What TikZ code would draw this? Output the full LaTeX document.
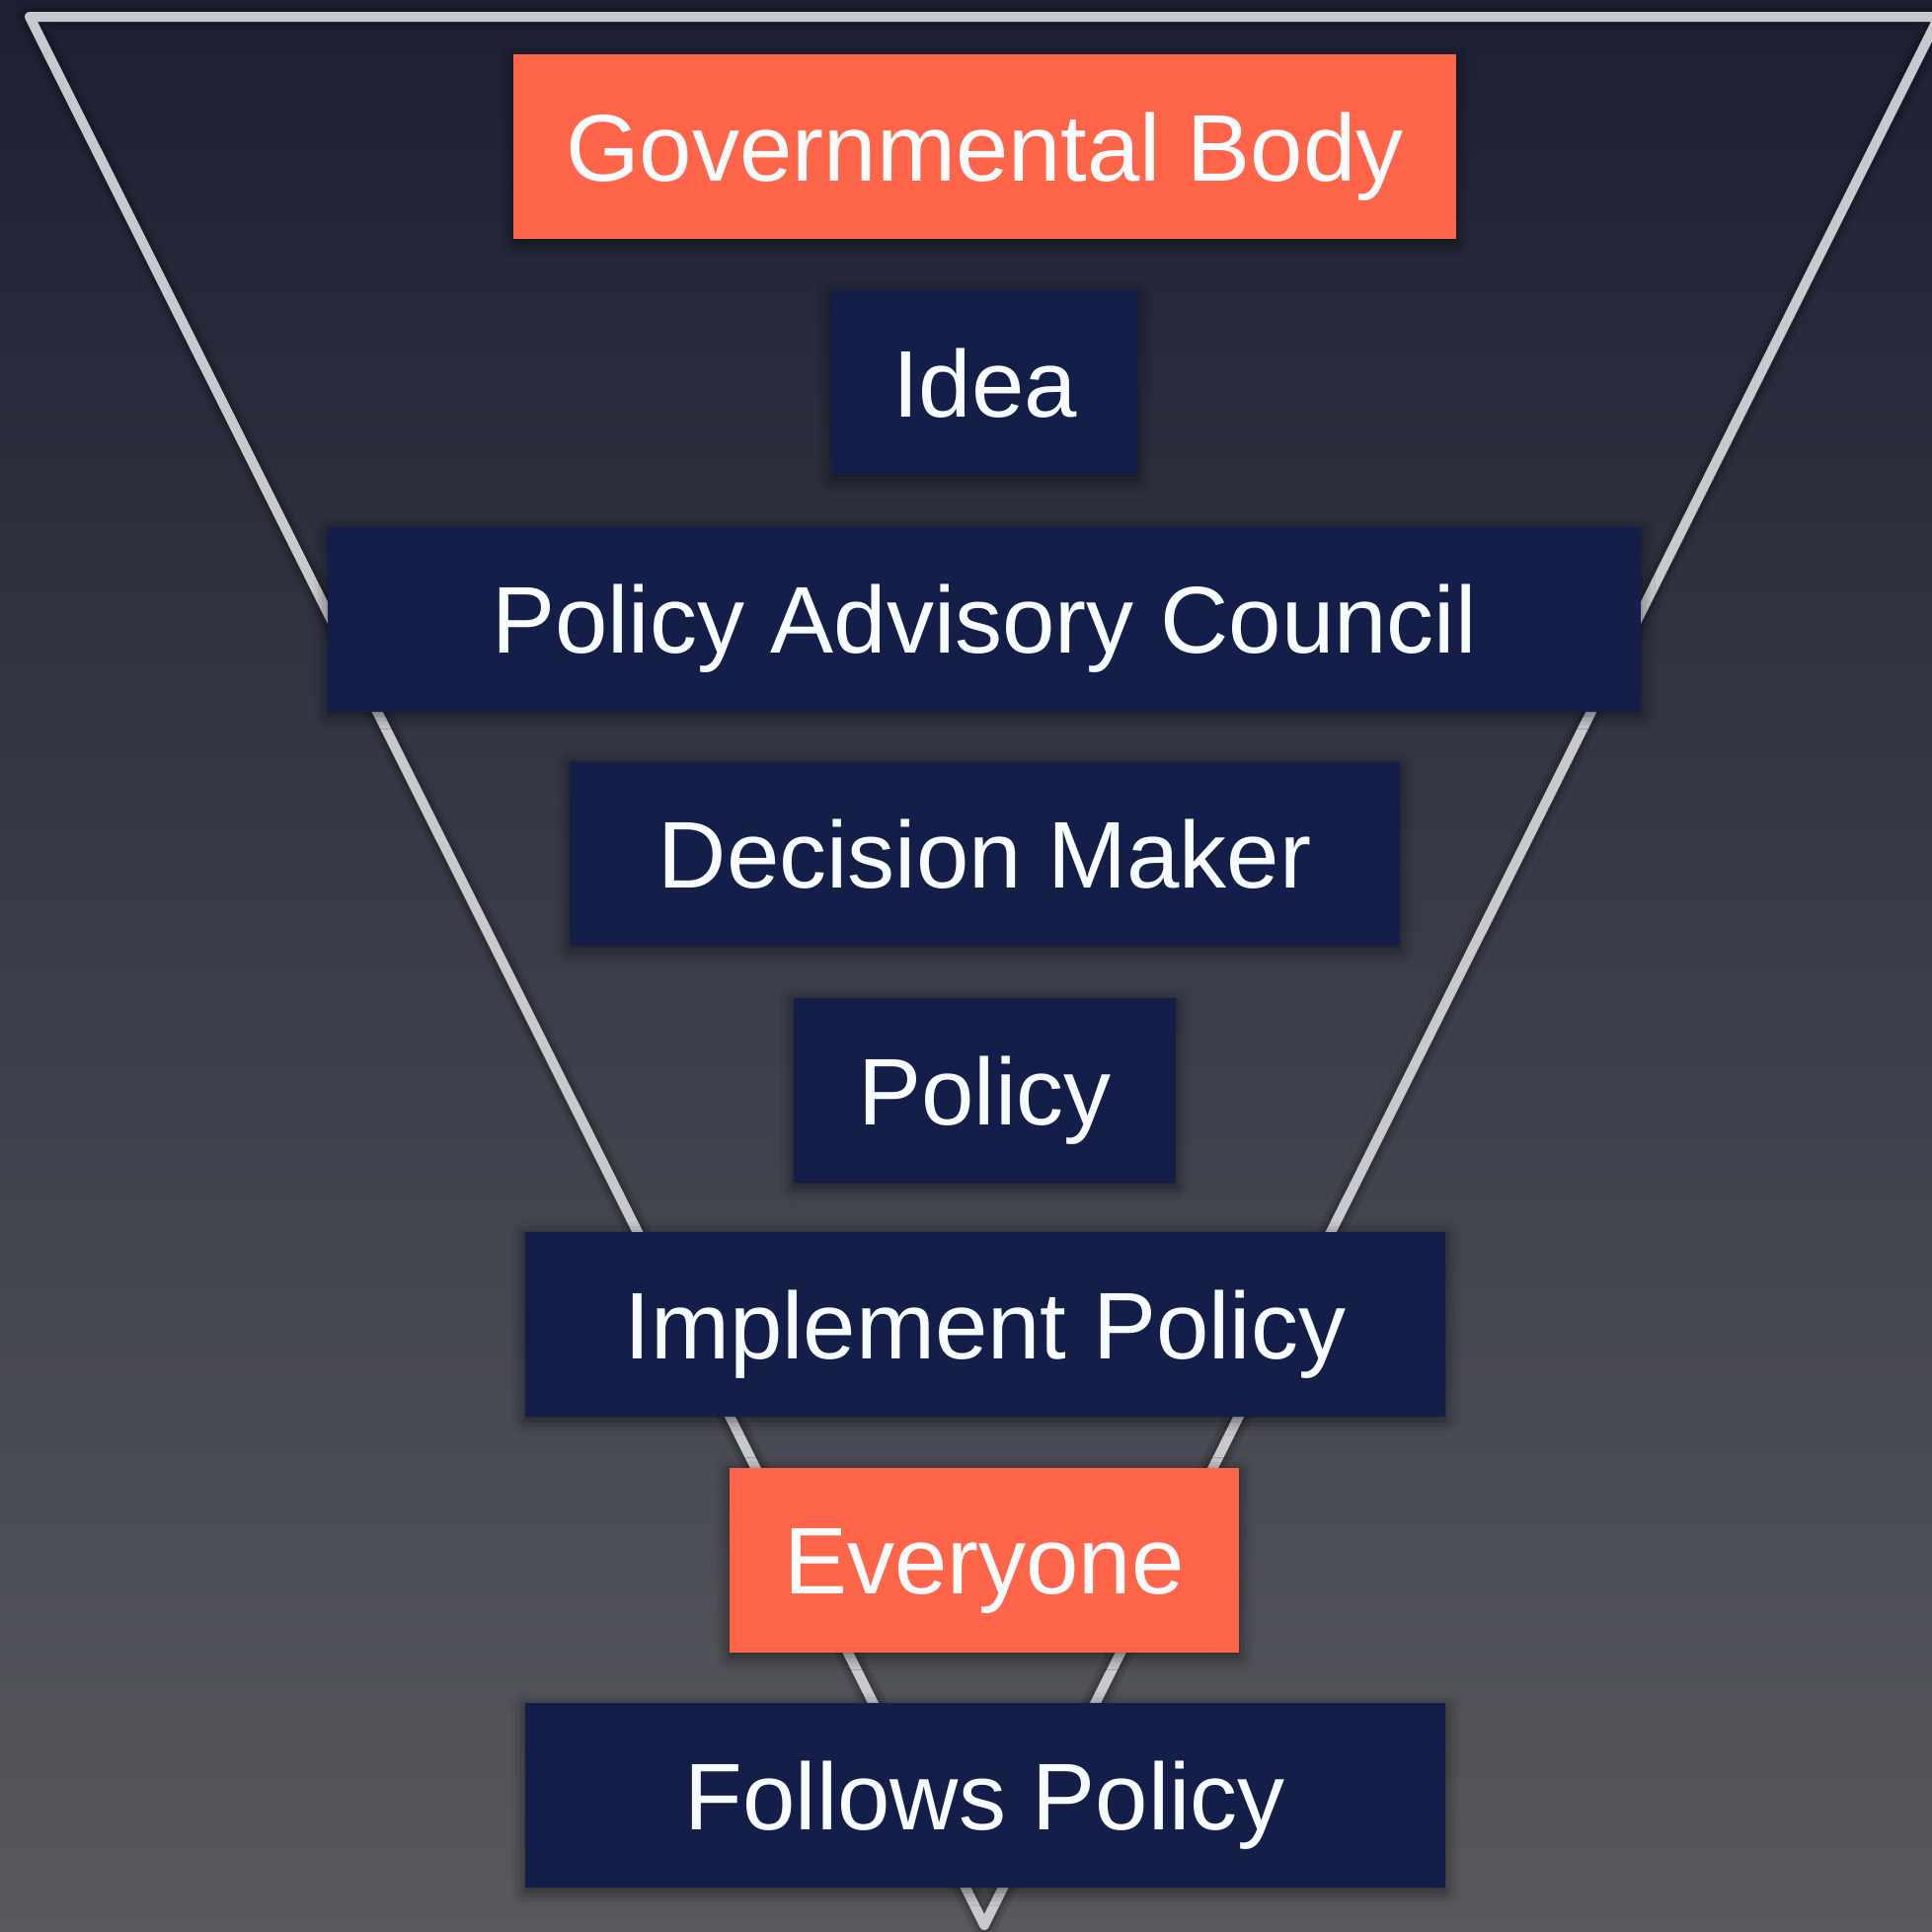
\documentclass[tikz,border=0pt]{standalone}
\usepackage{fontspec}
\setmainfont{Liberation Sans}
\usetikzlibrary{shadows.blur}
\definecolor{bgtop}{HTML}{1D2033}
\definecolor{bgbot}{HTML}{58595E}
\definecolor{navybox}{HTML}{131F48}
\definecolor{orangebox}{HTML}{FF6549}
\definecolor{linegray}{HTML}{C8C9CD}
\definecolor{textwhite}{HTML}{F8FCFF}
\begin{document}
\begin{tikzpicture}[x=1pt,y=-1pt,
  box/.style={fill=navybox, text=textwhite, minimum height=187pt,
    inner xsep=0pt, inner ysep=0pt, text height=69pt, text depth=0pt,
    font=\fontsize{96}{110}\selectfont,
    blur shadow={shadow xshift=0pt, shadow yshift=-4pt, shadow blur radius=14pt, shadow opacity=55}},
  hot/.style={box, fill=orangebox},
  funnel/.style={draw=linegray, line width=10pt, line join=round, line cap=round},
  funnelshadow/.style={draw=black, line join=round, line cap=round}]
\useasboundingbox (0,0) rectangle (1957,1957);
\clip (0,0) rectangle (1957,1957);
\shade[top color=bgtop, bottom color=bgbot] (0,0) rectangle (1957,1957);

\coordinate (tl) at (30,17);
\coordinate (tr) at (1964,17);
\coordinate (ap) at (997,1950);
\path[funnelshadow, line width=26pt, opacity=0.10] (tl) -- (tr) -- (ap) -- cycle;
\path[funnelshadow, line width=17pt, opacity=0.15] (tl) -- (tr) -- (ap) -- cycle;
\path[funnel] (tl) -- (tr) -- (ap) -- cycle;

\node[hot, minimum width=955pt] (gb) at (997.5,148.5) {Governmental Body};
\node[box, minimum width=311pt] (idea) at (997.5,387.5) {Idea};
\node[box, minimum width=1330pt] (pac) at (997,627) {Policy Advisory Council};
\node[box, minimum width=841pt] (dm) at (997.5,864.5) {Decision Maker};
\node[box, minimum width=387pt] (pol) at (997.5,1104.5) {Policy};
\node[box, minimum width=932pt] (ip) at (998,1341.5) {Implement Policy};
\node[hot, minimum width=516pt] (ev) at (997,1580) {Everyone};
\node[box, minimum width=932pt] (fp) at (998,1818.5) {Follows Policy};
\end{tikzpicture}
\end{document}
